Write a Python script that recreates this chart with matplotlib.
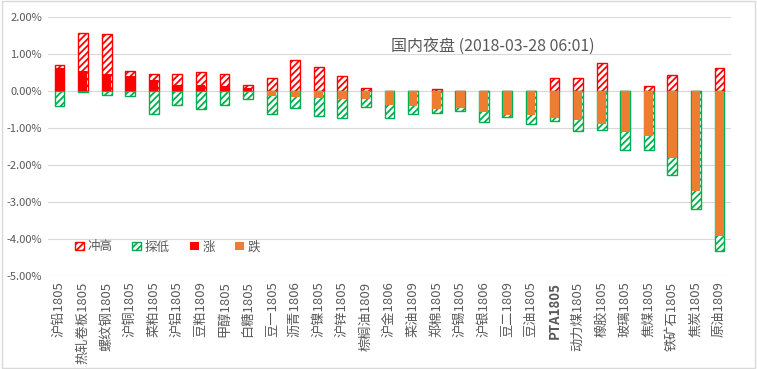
import matplotlib.pyplot as plt
import numpy as np
from matplotlib.patches import Patch, Rectangle

plt.rcParams['font.family'] = ['Noto Sans CJK SC', 'DejaVu Sans']
plt.rcParams['hatch.linewidth'] = 1.3

# 品种
names = ['沪铅1805', '热轧卷板1805', '螺纹钢1805', '沪铜1805', '菜粕1805', '沪铝1805',
         '豆粕1809', '甲醇1805', '白糖1805', '豆一1805', '沥青1806', '沪镍1805',
         '沪锌1805', '棕榈油1809', '沪金1806', '菜油1809', '郑棉1805', '沪锡1805',
         '沪银1806', '豆二1809', '豆油1805', 'PTA1805', '动力煤1805', '橡胶1805',
         '玻璃1805', '焦煤1805', '铁矿石1805', '焦炭1805', '原油1809']
# 收盘涨跌 (%)
close = [0.62, 0.54, 0.47, 0.40, 0.30, 0.17, 0.15, 0.14, 0.09, -0.14, -0.16, -0.18,
         -0.21, -0.23, -0.39, -0.41, -0.48, -0.46, -0.57, -0.64, -0.65, -0.74, -0.79,
         -0.90, -1.10, -1.22, -1.80, -2.69, -3.91]
# 最高 (冲高)
high = [0.69, 1.56, 1.54, 0.54, 0.47, 0.47, 0.52, 0.47, 0.17, 0.36, 0.83, 0.65,
        0.41, 0.07, 0.0, 0.0, 0.05, 0.0, 0.0, 0.0, 0.0, 0.34, 0.36,
        0.75, 0.0, 0.13, 0.43, 0.0, 0.63]
# 最低 (探低)
low = [-0.41, -0.04, -0.12, -0.13, -0.63, -0.39, -0.49, -0.39, -0.22, -0.61, -0.45, -0.68,
       -0.74, -0.43, -0.72, -0.61, -0.59, -0.54, -0.83, -0.70, -0.90, -0.82, -1.09,
       -1.06, -1.60, -1.60, -2.27, -3.18, -4.33]

red = '#FF0000'
orange = '#ED7D31'
green = '#00B050'
grey = '#595959'

fig = plt.figure(figsize=(7.57, 3.69), dpi=100)
ax = fig.add_axes([0.063, 0.252, 0.903, 0.702])

x = np.arange(len(names))
w = 0.42
ax.bar(x, np.array(high) / 100, w, color='white', edgecolor=red, hatch='/////', linewidth=1.0, zorder=2)
ax.bar(x, np.array(low) / 100, w, color='white', edgecolor=green, hatch='/////', linewidth=1.0, zorder=2)
cols = [red if c >= 0 else orange for c in close]
ax.bar(x, np.array(close) / 100, w - 0.05, color=cols, linewidth=0, zorder=3)

ax.set_xlim(-0.5, len(names) - 0.5)
ax.set_ylim(-0.05, 0.02)
yt = np.arange(-0.05, 0.0201, 0.01)
ax.set_yticks(yt)
ax.set_yticklabels(['%.2f%%' % (v * 100) for v in yt], fontsize=8, color=grey)
ax.grid(axis='y', color='#D9D9D9', linewidth=0.8, zorder=0)
ax.set_axisbelow(True)
for s in ax.spines.values():
    s.set_visible(False)
ax.tick_params(length=0, pad=4)
ax.set_xticks(x)
ax.set_xticklabels(names, rotation=90, fontsize=9.5, color=grey, va='top')
for t in ax.get_xticklabels():
    if t.get_text().startswith('PTA'):
        t.set_fontweight('bold')

ax.text(18.4, 0.0117, '国内夜盘 (2018-03-28 06:01)', fontsize=11.5, color=grey,
        ha='center', va='center')

handles = [Patch(facecolor='white', edgecolor=red, hatch='/////', label='冲高'),
           Patch(facecolor='white', edgecolor=green, hatch='/////', label='探低'),
           Patch(facecolor=red, label='涨'),
           Patch(facecolor=orange, label='跌')]
ax.legend(handles=handles, ncol=4, loc='center', bbox_to_anchor=(0.175, 0.112),
          frameon=False, fontsize=9, handlelength=0.7, handleheight=0.7,
          handletextpad=0.3, columnspacing=1.6, labelcolor=grey)

fig.patches.append(Rectangle((0.002, 0.003), 0.995, 0.993, transform=fig.transFigure,
                             fill=False, edgecolor='#D9D9D9', linewidth=1.0))

fig.savefig('out.png', dpi=100)
